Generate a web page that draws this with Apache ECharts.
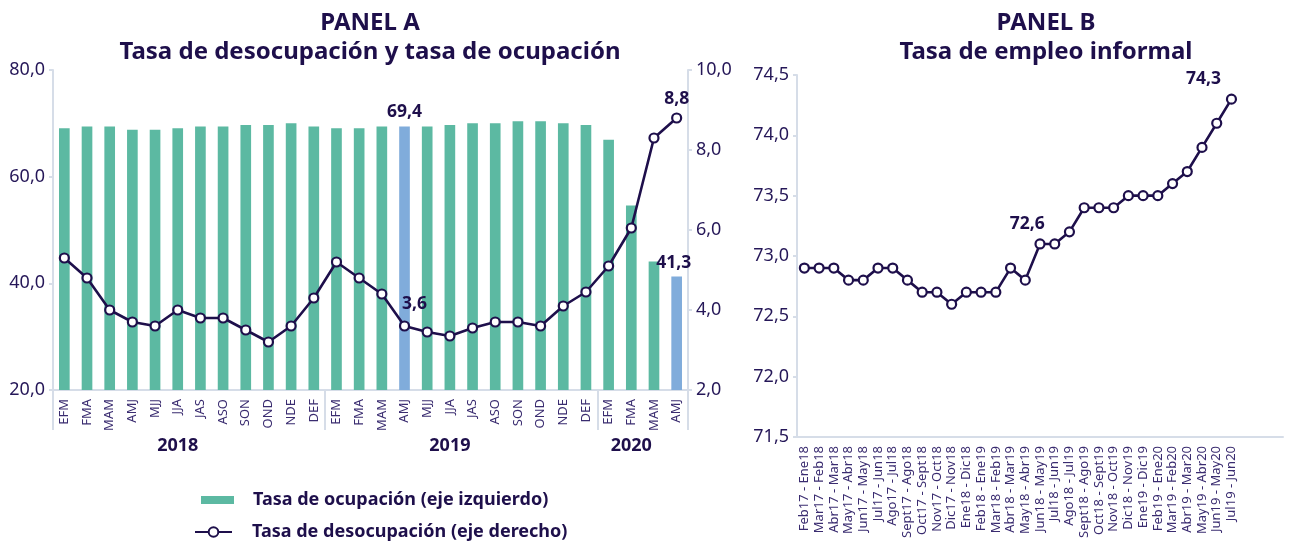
<!DOCTYPE html>
<html>
<head>
<meta charset="utf-8">
<script src="https://cdn.jsdelivr.net/npm/echarts@6/dist/echarts.min.js"></script>
<style>
html,body{margin:0;padding:0;background:#fff;}
#chart{width:1289px;height:541px;}
</style>
</head>
<body>
<div id="chart"></div>
<script>
// ---------- DATA ----------
const quarterLabels = ['EFM','FMA','MAM','AMJ','MJJ','JJA','JAS','ASO','SON','OND','NDE','DEF',
  'EFM','FMA','MAM','AMJ','MJJ','JJA','JAS','ASO','SON','OND','NDE','DEF',
  'EFM','FMA','MAM','AMJ'];
const yearLabels = ['2018','2019','2020'];
const yearGroupSizes = [12, 12, 4];
const ocupacion = [69.1,69.4,69.4,68.8,68.8,69.1,69.4,69.4,69.7,69.7,70.0,69.4,
  69.1,69.1,69.4,69.4,69.4,69.7,70.0,70.0,70.4,70.4,70.0,69.7,
  66.9,54.6,44.1,41.3];
const desocupacion = [5.3,4.8,4.0,3.7,3.6,4.0,3.8,3.8,3.5,3.2,3.6,4.3,
  5.2,4.8,4.4,3.6,3.45,3.35,3.55,3.7,3.7,3.6,4.1,4.45,
  5.1,6.05,8.3,8.8];
const highlightedBars = [15, 27];
const labeledDesocupacion = [15, 27];

const informalCats = ['Feb17 - Ene18','Mar17 - Feb18','Abr17 - Mar18','May17 - Abr18','Jun17 - May18',
  'Jul17 - Jun18','Ago17 - Jul18','Sept17 - Ago18','Oct17 - Sept18','Nov17 - Oct18','Dic17 - Nov18',
  'Ene18 - Dic18','Feb18 - Ene19','Mar18 - Feb19','Abr18 - Mar19','May18 - Abr19','Jun18 - May19',
  'Jul18 - Jun19','Ago18 - Jul19','Sept18 - Ago19','Oct18 - Sept19','Nov18 - Oct19','Dic18 - Nov19',
  'Ene19 - Dic19','Feb19 - Ene20','Mar19 - Feb20','Abr19 - Mar20','May19 - Abr20','Jun19 - May20',
  'Jul19 - Jun20'];
const informal = [72.9,72.9,72.9,72.8,72.8,72.9,72.9,72.8,72.7,72.7,72.6,72.7,72.7,72.7,72.9,72.8,
  73.1,73.1,73.2,73.4,73.4,73.4,73.5,73.5,73.5,73.6,73.7,73.9,74.1,74.3];
const informalNotes = [{index: 15, text: '72,6'}, {index: 29, text: '74,3'}];

const yLeftTicks = [20, 40, 60, 80];
const yRightTicks = [2, 4, 6, 8, 10];
const yBTicks = [71.5, 72.0, 72.5, 73.0, 73.5, 74.0, 74.5];

// ---------- STYLE ----------
const DARK = '#1e0f4b';
const TXT = '#251758';
const AXIS = '#d6dde8';
const GREEN = '#5cb9a2';
const BLUE = '#80acdb';
const FONT = '"Noto Sans", "Open Sans", sans-serif';
const fmt1 = v => Number(v).toFixed(1).replace('.', ',');

// year axis data: label at the middle of each group
const yearAxisData = [];
const yearTickIdx = [];
let start = 0;
yearGroupSizes.forEach((n, g) => {
  yearTickIdx.push(start);
  for (let i = 0; i < n; i++) {
    yearAxisData.push(i === Math.floor((n - 1) / 2) ? yearLabels[g] : '');
  }
  start += n;
});

const barData = ocupacion.map((v, i) => {
  const hl = highlightedBars.includes(i);
  return {
    value: v,
    itemStyle: {color: hl ? BLUE : GREEN},
    label: hl ? {show: true, position: 'top', formatter: p => fmt1(p.value),
      offset: i === 27 ? [-3, 1] : [0, -1]} : {show: false}
  };
});
const lineData = desocupacion.map((v, i) => {
  const lb = labeledDesocupacion.includes(i);
  return {
    value: v,
    label: lb ? {show: true, position: 'top', formatter: p => fmt1(p.value),
      offset: i === 15 ? [10, -2] : [0, 1]} : {show: false}
  };
});
const bCats = informalCats.concat(['', '', '']);
const informalData = informal.map((v, i) => {
  const note = informalNotes.find(n => n.index === i);
  return {
    value: v,
    label: note ? {show: true, position: 'top', formatter: note.text,
      offset: i === 15 ? [2, -37] : [-28, -1]} : {show: false}
  };
});

const chart = echarts.init(document.getElementById('chart'), null, {renderer: 'canvas'});
const option = {
  backgroundColor: '#ffffff',
  animation: false,
  textStyle: {fontFamily: FONT},
  title: [
    {text: 'PANEL A\nTasa de desocupación y tasa de ocupación', left: 365, top: 4, textAlign: 'center',
      textStyle: {fontFamily: FONT, fontSize: 24, fontWeight: 'bold', color: DARK, lineHeight: 29}},
    {text: 'PANEL B\nTasa de empleo informal', left: 1041, top: 4, textAlign: 'center',
      textStyle: {fontFamily: FONT, fontSize: 24, fontWeight: 'bold', color: DARK, lineHeight: 29}}
  ],
  legend: [
    {data: ['Tasa de ocupación (eje izquierdo)'], left: 196, top: 486, orient: 'vertical',
      itemWidth: 33, itemHeight: 8, icon: 'rect',
      textStyle: {fontFamily: FONT, fontSize: 18, fontWeight: 'bold', color: DARK, padding: [0, 0, 0, 14]}},
    {data: ['Tasa de desocupación (eje derecho)'], left: 189, top: 518, orient: 'vertical',
      itemWidth: 37, itemHeight: 12,
      textStyle: {fontFamily: FONT, fontSize: 18, fontWeight: 'bold', color: DARK, padding: [0, 0, 0, 15]}}
  ],
  grid: [
    {left: 53, top: 70, width: 635, height: 320},
    {left: 797, top: 75, width: 486, height: 363}
  ],
  xAxis: [
    {type: 'category', gridIndex: 0, data: quarterLabels,
      axisLine: {lineStyle: {color: AXIS, width: 2}}, axisTick: {show: false},
      axisLabel: {interval: 0, rotate: 90, fontSize: 13, color: '#3a2c70', margin: 9, fontFamily: FONT}},
    {type: 'category', gridIndex: 0, position: 'bottom', data: yearAxisData,
      axisLine: {show: false},
      axisTick: {show: true, length: 40, interval: (i) => yearTickIdx.includes(i),
        lineStyle: {color: AXIS, width: 2}},
      axisLabel: {interval: 0, fontSize: 18, fontWeight: 'bold', color: DARK, margin: 47, fontFamily: FONT}},
    {type: 'category', gridIndex: 1, data: bCats,
      axisLine: {lineStyle: {color: AXIS, width: 2}}, axisTick: {show: false},
      axisLabel: {interval: 0, rotate: 90, fontSize: 13, color: '#3a2c70', margin: 9, fontFamily: FONT}}
  ],
  yAxis: [
    {type: 'value', gridIndex: 0, min: yLeftTicks[0], max: yLeftTicks[yLeftTicks.length - 1],
      interval: yLeftTicks[1] - yLeftTicks[0],
      axisLine: {show: true, lineStyle: {color: AXIS, width: 2}},
      axisTick: {show: true, length: 4, lineStyle: {color: AXIS, width: 2}},
      splitLine: {show: false},
      axisLabel: {formatter: fmt1, fontSize: 18, color: TXT, margin: 8, fontFamily: FONT}},
    {type: 'value', gridIndex: 0, position: 'right', min: yRightTicks[0], max: yRightTicks[yRightTicks.length - 1],
      interval: yRightTicks[1] - yRightTicks[0],
      axisLine: {show: true, lineStyle: {color: AXIS, width: 2}},
      axisTick: {show: true, length: 4, lineStyle: {color: AXIS, width: 2}},
      splitLine: {show: false},
      axisLabel: {formatter: fmt1, fontSize: 18, color: TXT, margin: 8, fontFamily: FONT}},
    {type: 'value', gridIndex: 1, min: yBTicks[0], max: yBTicks[yBTicks.length - 1],
      interval: 0.5,
      axisLine: {show: true, lineStyle: {color: AXIS, width: 2}},
      axisTick: {show: true, length: 4, lineStyle: {color: AXIS, width: 2}},
      splitLine: {show: false},
      axisLabel: {formatter: fmt1, fontSize: 18, color: TXT, margin: 8, fontFamily: FONT}}
  ],
  series: [
    {name: 'Tasa de ocupación (eje izquierdo)', type: 'bar', xAxisIndex: 0, yAxisIndex: 0,
      data: barData, barWidth: '47%', itemStyle: {color: GREEN},
      label: {fontSize: 17.5, fontWeight: 'bold', color: DARK, fontFamily: FONT}},
    {name: 'Tasa de desocupación (eje derecho)', type: 'line', xAxisIndex: 0, yAxisIndex: 1,
      data: lineData, symbol: 'circle', symbolSize: 9,
      itemStyle: {color: '#ffffff', borderColor: DARK, borderWidth: 2.2},
      lineStyle: {color: DARK, width: 2.6},
      label: {fontSize: 17.5, fontWeight: 'bold', color: DARK, fontFamily: FONT}, z: 5},
    {name: 'Tasa de empleo informal', type: 'line', xAxisIndex: 2, yAxisIndex: 2,
      data: informalData, symbol: 'circle', symbolSize: 9,
      itemStyle: {color: '#ffffff', borderColor: DARK, borderWidth: 2.2},
      lineStyle: {color: DARK, width: 2.6},
      label: {fontSize: 17.5, fontWeight: 'bold', color: DARK, fontFamily: FONT}}
  ]
};
chart.setOption(option);
</script>
</body>
</html>
